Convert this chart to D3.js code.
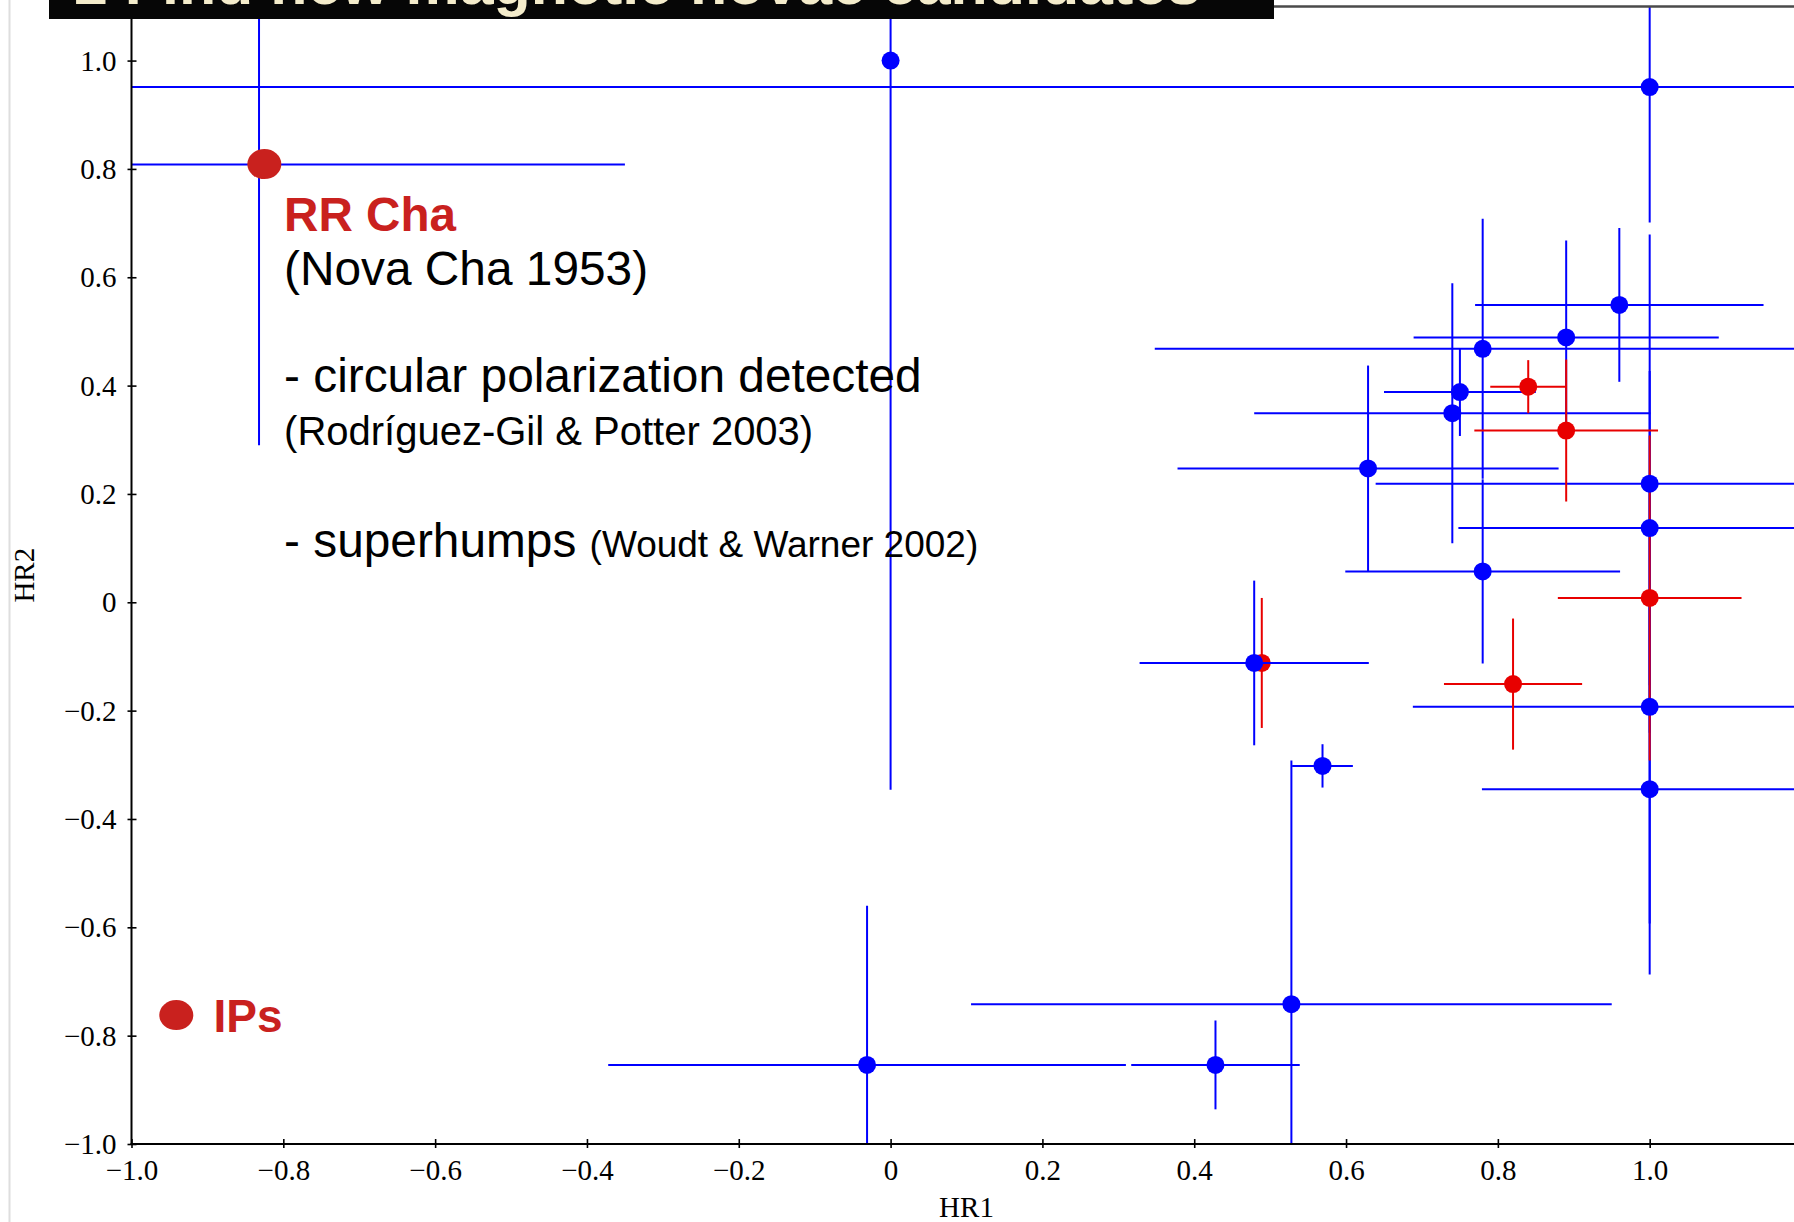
<!DOCTYPE html>
<html>
<head>
<meta charset="utf-8">
<script src="https://cdn.jsdelivr.net/npm/d3@7"></script>
<style>
  html, body { margin: 0; padding: 0; background: #ffffff; }
  svg { display: block; }
</style>
</head>
<body>
<svg id="chart" width="1794" height="1222"></svg>
<script>
// ---------------- data ----------------
const xTicks = [-1.0, -0.8, -0.6, -0.4, -0.2, 0, 0.2, 0.4, 0.6, 0.8, 1.0];
const xTickLabels = ["\u22121.0", "\u22120.8", "\u22120.6", "\u22120.4", "\u22120.2", "0", "0.2", "0.4", "0.6", "0.8", "1.0"];
const yTicks = [-1.0, -0.8, -0.6, -0.4, -0.2, 0, 0.2, 0.4, 0.6, 0.8, 1.0];
const yTickLabels = ["\u22121.0", "\u22120.8", "\u22120.6", "\u22120.4", "\u22120.2", "0", "0.2", "0.4", "0.6", "0.8", "1.0"];

// blue sources: HR1, HR2 and their errors
const blueX    = [0.000, -0.832, 1.000, 0.960, 0.890, 0.780, 0.750, 0.740, 0.629, 1.000, 1.000, 1.000, 1.000, 0.780, 0.479, 0.569, 0.528, -0.031, 0.428];
const blueY    = [1.000,  0.808, 0.951, 0.549, 0.489, 0.468, 0.388, 0.349, 0.247, 0.219, 0.137, -0.193, -0.345, 0.057, -0.112, -0.302, -0.742, -0.854, -0.854];
const blueXerr = [0.000,  0.482, 2.200, 0.190, 0.201, 0.432, 0.100, 0.261, 0.251, 0.361, 0.252, 0.312, 0.221, 0.181, 0.151, 0.040, 0.422, 0.341, 0.111];
const blueYerr = [1.346,  0.518, 0.250, 0.142, 0.179, 0.240, 0.081, 0.240, 0.190, 0.460, 0.290, 0.400, 0.342, 0.170, 0.152, 0.040, 0.450, 0.294, 0.082];

// red sources
const redX    = [0.840, 0.890, 1.000, 0.820, 0.489];
const redY    = [0.398, 0.317, 0.008, -0.151, -0.112];
const redXerr = [0.050, 0.121, 0.121, 0.091, 0.122];
const redYerr = [0.049, 0.131, 0.300, 0.121, 0.120];
// red sources that were plotted before (underneath) the blue ones
const redBelowBlue = [false, false, false, false, true];

// annotations (data coordinates)
const rrChaMarker = [-0.825, 0.809];
const ipsMarker = [-0.941, -0.762];
const noteX = -0.799;
const noteLines = [
  { y: 0.685, parts: [{ t: "RR Cha", size: 47.6, bold: true, color: "#c9211e" }] },
  { y: 0.586, parts: [{ t: "(Nova Cha 1953)", size: 47.8 }] },
  { y: 0.388, parts: [{ t: "- circular polarization detected", size: 47.8 }] },
  { y: 0.290, parts: [{ t: "(Rodr\u00edguez-Gil & Potter 2003)", size: 40 }] },
  { y: 0.084, parts: [{ t: "- superhumps ", size: 47.8 }, { t: "(Woudt & Warner 2002)", size: 37 }] }
];
const ipsLabel = { x: -0.892, y: -0.793, t: "IPs" };
const bannerText = "2 Find new magnetic novae candidates";

// ---------------- layout ----------------
const svg = d3.select("#chart");
const pLeft = 131.5, pRight = 1801.5, pTop = 6.4, pBottom = 1144;
const x = d3.scaleLinear().domain([-1, 1.2]).range([pLeft, pRight]);
const y = d3.scaleLinear().domain([-1, 1.1]).range([pBottom, pTop]);

const BLUE = "#0000ff", RED = "#e80000", NOTE = "#c9211e";
const serif = "'Liberation Serif', 'Times New Roman', serif";
const sans = "'Liberation Sans', Arial, sans-serif";

// slide edge line
svg.append("line").attr("x1", 9.5).attr("x2", 9.5).attr("y1", 0).attr("y2", 1222)
  .attr("stroke", "#dedede").attr("stroke-width", 2);

const defs = svg.append("defs");
defs.append("clipPath").attr("id", "plotclip")
  .append("rect").attr("x", pLeft).attr("y", pTop).attr("width", pRight - pLeft).attr("height", pBottom - pTop);

const plot = svg.append("g").attr("clip-path", "url(#plotclip)");

function drawPoints(g, xs, ys, xe, ye, color, keep) {
  const idx = xs.map((d, i) => i).filter(keep);
  idx.forEach(i => {
    const xv = xs[i];
    if (xe[i] > 0) {
      g.append("line").attr("x1", x(xv - xe[i])).attr("x2", x(xv + xe[i]))
        .attr("y1", y(ys[i])).attr("y2", y(ys[i]))
        .attr("stroke", color).attr("stroke-width", 2);
    }
    if (ye[i] > 0) {
      g.append("line").attr("x1", x(xv)).attr("x2", x(xv))
        .attr("y1", y(ys[i] - ye[i])).attr("y2", y(ys[i] + ye[i]))
        .attr("stroke", color).attr("stroke-width", 2);
    }
  });
  return idx;
}
function drawMarkers(g, xs, ys, color, idx) {
  g.selectAll(null).data(idx.map(i => [xs[i], ys[i]])).enter().append("circle")
    .attr("cx", d => x(d[0])).attr("cy", d => y(d[1])).attr("r", 9).attr("fill", color);
}

const redUnder = drawPoints(plot, redX, redY, redXerr, redYerr, RED, i => redBelowBlue[i]);
drawMarkers(plot, redX, redY, RED, redUnder);
const blueAll = drawPoints(plot, blueX, blueY, blueXerr, blueYerr, BLUE, () => true);
const redOver = drawPoints(plot, redX, redY, redXerr, redYerr, RED, i => !redBelowBlue[i]);
drawMarkers(plot, redX, redY, RED, redOver);
drawMarkers(plot, blueX, blueY, BLUE, blueAll);

// frame
const frame = svg.append("g");
frame.append("line").attr("x1", pLeft).attr("x2", pRight).attr("y1", pTop).attr("y2", pTop)
  .attr("stroke", "#4a4a4a").attr("stroke-width", 2.5);
frame.append("line").attr("x1", pLeft).attr("x2", pLeft).attr("y1", pTop).attr("y2", pBottom)
  .attr("stroke", "#000").attr("stroke-width", 2);
frame.append("line").attr("x1", pLeft - 1).attr("x2", pRight).attr("y1", pBottom).attr("y2", pBottom)
  .attr("stroke", "#000").attr("stroke-width", 2);

// axes
const xAxis = d3.axisBottom(x).tickValues(xTicks).tickFormat((d, i) => xTickLabels[i]).tickSizeOuter(0);
const gx = svg.append("g").attr("transform", `translate(0,${pBottom})`).call(xAxis);
gx.select(".domain").remove();
gx.selectAll(".tick line").attr("y1", -5).attr("y2", 4).attr("stroke", "#000").attr("stroke-width", 1.6);
gx.selectAll(".tick text").attr("y", 36).attr("dy", null)
  .attr("font-family", serif).attr("font-size", 29).attr("fill", "#000");

const yAxis = d3.axisLeft(y).tickValues(yTicks).tickFormat((d, i) => yTickLabels[i]).tickSizeOuter(0);
const gy = svg.append("g").attr("transform", `translate(${pLeft},0)`).call(yAxis);
gy.select(".domain").remove();
gy.selectAll(".tick line").attr("x1", -4).attr("x2", 5).attr("stroke", "#000").attr("stroke-width", 1.6);
gy.selectAll(".tick text").attr("x", -15).attr("dy", "0.33em")
  .attr("font-family", serif).attr("font-size", 29).attr("fill", "#000");

svg.append("text").attr("x", (pLeft + pRight) / 2).attr("y", 1217).attr("text-anchor", "middle")
  .attr("font-family", serif).attr("font-size", 29).text("HR1");
svg.append("text").attr("transform", `translate(34,${(pTop + pBottom) / 2}) rotate(-90)`).attr("text-anchor", "middle")
  .attr("font-family", serif).attr("font-size", 29).text("HR2");

// annotations
svg.append("ellipse").attr("cx", x(rrChaMarker[0])).attr("cy", y(rrChaMarker[1])).attr("rx", 17).attr("ry", 15).attr("fill", NOTE);
svg.append("ellipse").attr("cx", x(ipsMarker[0])).attr("cy", y(ipsMarker[1])).attr("rx", 17).attr("ry", 15).attr("fill", NOTE);

noteLines.forEach(line => {
  const t = svg.append("text").attr("x", x(noteX)).attr("y", y(line.y)).attr("font-family", sans)
    .style("white-space", "pre");
  line.parts.forEach(p => {
    t.append("tspan").attr("font-size", p.size).attr("font-weight", p.bold ? "bold" : "normal")
      .attr("fill", p.color || "#000").text(p.t);
  });
});
svg.append("text").attr("x", x(ipsLabel.x)).attr("y", y(ipsLabel.y)).attr("font-family", sans)
  .attr("font-size", 46).attr("font-weight", "bold").attr("fill", NOTE).text(ipsLabel.t);

// title banner (cut off at top, as on the slide)
defs.append("clipPath").attr("id", "bannerclip")
  .append("rect").attr("x", 49).attr("y", 0).attr("width", 1225).attr("height", 19);
svg.append("rect").attr("x", 49).attr("y", 0).attr("width", 1225).attr("height", 19).attr("fill", "#060606");
svg.append("text").attr("clip-path", "url(#bannerclip)").attr("x", 74).attr("y", 4)
  .attr("font-family", sans).attr("font-weight", "bold").attr("font-size", 61)
  .attr("textLength", 1127).attr("lengthAdjust", "spacingAndGlyphs")
  .attr("fill", "#f4eccb").text(bannerText);
</script>
</body>
</html>
